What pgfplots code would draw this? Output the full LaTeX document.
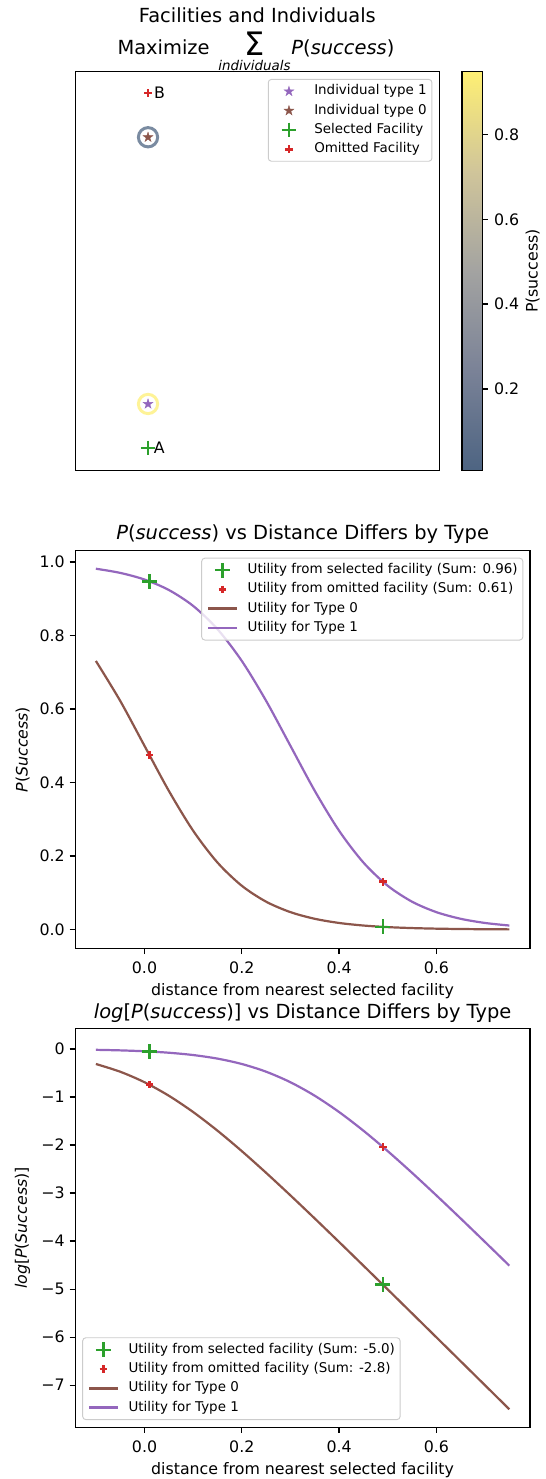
\documentclass[border=0pt]{standalone}
\usepackage{fontspec}
\setmainfont{DejaVu Sans}[ItalicFont={DejaVu Sans Oblique}]
\usepackage{graphicx}
\usepackage{pgfplots}
\pgfplotsset{compat=1.18}

\definecolor{tpurple}{RGB}{148,103,189}
\definecolor{tbrown}{RGB}{140,86,75}
\definecolor{tgreen}{RGB}{44,160,44}
\definecolor{tred}{RGB}{214,39,40}

\pgfdeclareplotmark{fstar}{%
  \pgfpathmoveto{\pgfqpoint{0pt}{\pgfplotmarksize}}%
  \pgfpathlineto{\pgfqpoint{-0.2245\pgfplotmarksize}{0.3090\pgfplotmarksize}}%
  \pgfpathlineto{\pgfqpoint{-0.9511\pgfplotmarksize}{0.3090\pgfplotmarksize}}%
  \pgfpathlineto{\pgfqpoint{-0.3633\pgfplotmarksize}{-0.1180\pgfplotmarksize}}%
  \pgfpathlineto{\pgfqpoint{-0.5878\pgfplotmarksize}{-0.8090\pgfplotmarksize}}%
  \pgfpathlineto{\pgfqpoint{0pt}{-0.3820\pgfplotmarksize}}%
  \pgfpathlineto{\pgfqpoint{0.5878\pgfplotmarksize}{-0.8090\pgfplotmarksize}}%
  \pgfpathlineto{\pgfqpoint{0.3633\pgfplotmarksize}{-0.1180\pgfplotmarksize}}%
  \pgfpathlineto{\pgfqpoint{0.9511\pgfplotmarksize}{0.3090\pgfplotmarksize}}%
  \pgfpathlineto{\pgfqpoint{0.2245\pgfplotmarksize}{0.3090\pgfplotmarksize}}%
  \pgfpathclose
  \pgfusepathqfillstroke}

\pgfplotsset{
  colormap={civ}{rgb255=(77,100,130) rgb255=(122,130,151) rgb255=(163,163,161) rgb255=(208,197,154) rgb255=(254,239,116)},
  base/.style={
    scale only axis,
    axis line style={line width=0.8pt, black},
    tick style={line width=0.8pt, black},
    major tick length=3.5pt,
    tick align=outside,
    tick label style={font=\fontsize{10}{12}\selectfont},
    /pgf/number format/assume math mode=true,
    every axis title/.style={at={(0.5,1)}, anchor=base, inner sep=0pt, font=\fontsize{12.3}{14}\selectfont},
    every axis x label/.style={at={(0.5,0)}, anchor=base, yshift=-29.7pt, inner sep=0pt, font=\fontsize{10}{12}\selectfont},
    every axis y label/.style={at={(-0.1157,0.5)}, anchor=center, rotate=90, inner sep=0pt, font=\fontsize{10}{12}\selectfont},
  },
  lineplot/.style={
    base, tick pos=left,
    xticklabel style={inner sep=0pt, anchor=north, yshift=-4.7pt},
    yticklabel style={inner sep=0pt, anchor=east, xshift=-2.9pt},
    xmin=-0.1425, xmax=0.7925,
    xtick={0,0.2,0.4,0.6},
    xticklabels={0.0,0.2,0.4,0.6},
    xlabel={distance from nearest selected facility},
  },
  mylegend/.style={
    legend cell align=left,
    legend style={draw=black!20, line width=0.6pt, fill=white, fill opacity=0.8, draw opacity=1, text opacity=1,
      rounded corners=2pt,
      inner xsep=3.3pt, inner ysep=2.1pt, row sep=1.2pt,
      font=\fontsize{8.5}{10}\selectfont,
      nodes={inner sep=0pt, text height=7.7pt, text depth=3.3pt, anchor=west}},
  },
  markleg/.style={legend image code/.code={\draw[sharp corners,fill opacity=1,draw opacity=1,mark repeat=2,mark phase=2,##1] plot coordinates {(0pt,0pt) (9pt,0pt) (18pt,0pt)}; \path (0pt,0pt) (24.2pt,0pt);}},
  lineleg/.style={legend image code/.code={\draw[sharp corners,draw opacity=1,##1] (0pt,0pt) -- (18pt,0pt); \path (24.2pt,0pt);}},
}

\begin{document}
\begin{tikzpicture}
\useasboundingbox (0pt,0pt) rectangle (345.6pt,-936.2pt);

% ---------- top: facilities and individuals ----------
\begin{axis}[base, name=top, at={(47.6pt,-297.95pt)}, anchor=south west,
  width=230.5pt, height=252.6pt,
  xmin=0, xmax=1, ymin=0, ymax=1, xtick=\empty, ytick=\empty,
  colormap name=civ, point meta min=0.0074, point meta max=0.9479,
  mylegend, legend style={at={(0.981,0.9817)}, anchor=north east}]
\addplot[scatter, only marks, mark=o, mark size=6.1pt, line width=1.9pt, draw opacity=0.75,
  scatter/use mapped color={draw=mapped color}, point meta=explicit, forget plot]
  coordinates {(0.2,0.8356) [0.0074] (0.2,0.1672) [0.9479]};
\addplot[only marks, mark=fstar, mark size=3.3pt, tpurple, line width=0.2pt, markleg]
  coordinates {(0.2,0.1672)};
\addlegendentry{Individual type 1}
\addplot[only marks, mark=fstar, mark size=3.3pt, tbrown, line width=0.2pt, markleg]
  coordinates {(0.2,0.8356)};
\addlegendentry{Individual type 0}
\addplot[only marks, mark=+, mark size=4.6pt, line width=1.5pt, tgreen, markleg,
  nodes near coords={A}, nodes near coords align={anchor=west},
  every node near coord/.append style={anchor=west, text=black, inner sep=0pt, xshift=3pt, font=\fontsize{10}{12}\selectfont}]
  coordinates {(0.2,0.0569)};
\addlegendentry{Selected Facility}
\addplot[only marks, mark=+, mark size=2.4pt, line width=1.6pt, tred, markleg,
  nodes near coords={B}, nodes near coords align={anchor=west},
  every node near coord/.append style={anchor=west, text=black, inner sep=0pt, xshift=3pt, font=\fontsize{10}{12}\selectfont}]
  coordinates {(0.2,0.947)};
\addlegendentry{Omitted Facility}
\end{axis}

% ---------- colorbar ----------
\begin{axis}[base, at={(292.4pt,-297.95pt)}, anchor=south west,
  width=12.8pt, height=252.6pt,
  xmin=0, xmax=1, ymin=0.0074, ymax=0.9479,
  xtick=\empty, ytick={0.2,0.4,0.6,0.8}, yticklabels={0.2,0.4,0.6,0.8},
  ytick pos=right, yticklabel pos=right,
  yticklabel style={inner sep=0pt, anchor=west, xshift=3.8pt},
  colormap name=civ, point meta min=0.0074, point meta max=0.9479,
  axis on top,
  ylabel={P(success)},
  every axis y label/.style={at={(3.5,0.5)}, anchor=center, rotate=90, inner sep=0pt, font=\fontsize{10}{12}\selectfont}]
\addplot[surf, shader=interp, point meta=y] coordinates {
(0,0.0074) (1,0.0074)

(0,0.1) (1,0.1)

(0,0.2) (1,0.2)

(0,0.3) (1,0.3)

(0,0.4) (1,0.4)

(0,0.5) (1,0.5)

(0,0.6) (1,0.6)

(0,0.7) (1,0.7)

(0,0.8) (1,0.8)

(0,0.9) (1,0.9)

(0,0.9479) (1,0.9479)
};
\end{axis}

% ---------- middle: P(success) ----------
\begin{axis}[lineplot, at={(47.6pt,-600.5pt)}, anchor=south west,
  width=287.9pt, height=251.9pt,
  ymin=-0.052, ymax=1.031,
  ytick={0,0.2,0.4,0.6,0.8,1}, yticklabels={0.0,0.2,0.4,0.6,0.8,1.0},
  title={\textit{P}(\textit{success}) vs Distance Differs by Type},
  title style={yshift=7.2pt},
  ylabel={\textit{P}(\textit{Success})},
  mylegend, legend style={at={(0.9853,0.9824)}, anchor=north east}]
\addlegendimage{only marks, mark=+, mark size=4.7pt, line width=1.6pt, tgreen, markleg}
\addlegendimage{only marks, mark=+, mark size=2.4pt, line width=1.6pt, tred, markleg}
\addlegendimage{no marks, line width=1.6pt, tbrown, lineleg}
\addlegendimage{no marks, line width=1.6pt, tpurple, lineleg}
\addplot[no marks, smooth, line width=1.4pt, tbrown, forget plot] coordinates {
(-0.10,0.73106) (-0.05,0.62246) (0.00,0.5) (0.05,0.37754) (0.10,0.26894) (0.15,0.18243)
(0.20,0.11920) (0.25,0.07586) (0.30,0.047426) (0.35,0.029312) (0.40,0.017986) (0.45,0.010987)
(0.50,0.0066929) (0.55,0.0040701) (0.60,0.0024726) (0.65,0.0015011) (0.70,0.00091105) (0.75,0.00055278)};
\addplot[no marks, smooth, line width=1.4pt, tpurple, forget plot] coordinates {
(-0.10,0.98201) (-0.05,0.97069) (0.00,0.95257) (0.05,0.92414) (0.10,0.88080) (0.15,0.81757)
(0.20,0.73106) (0.25,0.62246) (0.30,0.5) (0.35,0.37754) (0.40,0.26894) (0.45,0.18243)
(0.50,0.11920) (0.55,0.07586) (0.60,0.047426) (0.65,0.029312) (0.70,0.017986) (0.75,0.010987)};
\addplot[only marks, mark=+, mark size=4.7pt, line width=1.6pt, tgreen, forget plot]
  coordinates {(0.01,0.94785) (0.49,0.0073915)};
\addplot[only marks, mark=+, mark size=2.4pt, line width=1.6pt, tred, forget plot]
  coordinates {(0.01,0.47502) (0.49,0.13011)};
\legend{Utility from selected facility (Sum: 0.96),Utility from omitted facility (Sum: 0.61),Utility for Type 0,Utility for Type 1}
\end{axis}

% ---------- bottom: log P(success) ----------
\begin{axis}[lineplot, at={(47.6pt,-903.5pt)}, anchor=south west,
  width=287.9pt, height=252.3pt,
  ymin=-7.877, ymax=0.42,
  ytick={-7,-6,-5,-4,-3,-2,-1,0}, yticklabels={−7,−6,−5,−4,−3,−2,−1,0},
  title={\textit{log}[\textit{P}(\textit{success})] vs Distance Differs by Type},
  title style={yshift=6.6pt},
  ylabel={\textit{log}[\textit{P}(\textit{Success})]},
  mylegend, legend style={at={(0.0154,0.0183)}, anchor=south west}]
\addlegendimage{only marks, mark=+, mark size=4.7pt, line width=1.6pt, tgreen, markleg}
\addlegendimage{only marks, mark=+, mark size=2.4pt, line width=1.6pt, tred, markleg}
\addlegendimage{no marks, line width=1.6pt, tbrown, lineleg}
\addlegendimage{no marks, line width=1.6pt, tpurple, lineleg}
\addplot[no marks, smooth, line width=1.4pt, tbrown, forget plot] coordinates {
(-0.10,-0.31326) (-0.05,-0.47408) (0.00,-0.69315) (0.05,-0.97408) (0.10,-1.31326) (0.15,-1.70141)
(0.20,-2.12693) (0.25,-2.57889) (0.30,-3.04859) (0.35,-3.52975) (0.40,-4.01815) (0.45,-4.51104)
(0.50,-5.00672) (0.55,-5.50408) (0.60,-6.00248) (0.65,-6.50150) (0.70,-7.00091) (0.75,-7.50055)};
\addplot[no marks, smooth, line width=1.4pt, tpurple, forget plot] coordinates {
(-0.10,-0.018149) (-0.05,-0.029750) (0.00,-0.048587) (0.05,-0.078889) (0.10,-0.126928) (0.15,-0.201413)
(0.20,-0.31326) (0.25,-0.47408) (0.30,-0.69315) (0.35,-0.97408) (0.40,-1.31326) (0.45,-1.70141)
(0.50,-2.12693) (0.55,-2.57889) (0.60,-3.04859) (0.65,-3.52975) (0.70,-4.01815) (0.75,-4.51104)};
\addplot[only marks, mark=+, mark size=4.7pt, line width=1.6pt, tgreen, forget plot]
  coordinates {(0.01,-0.053563) (0.49,-4.9074)};
\addplot[only marks, mark=+, mark size=2.4pt, line width=1.6pt, tred, forget plot]
  coordinates {(0.01,-0.74440) (0.49,-2.03941)};
\legend{Utility from selected facility (Sum: -5.0),Utility from omitted facility (Sum: -2.8),Utility for Type 0,Utility for Type 1}
\end{axis}

% ---------- top titles ----------
\node[anchor=base, inner sep=0pt, font=\fontsize{12.3}{14}\selectfont] at (162.9pt,-14.37pt) {Facilities and Individuals};
\node[anchor=base west, inner sep=0pt, font=\fontsize{12.3}{14}\selectfont] at (74.2pt,-34.8pt) {Maximize};
\node[anchor=base, inner sep=0pt] at (161.1pt,-35.0pt) {\resizebox{12.8pt}{14.9pt}{\fontsize{12.3}{14}\selectfont Σ}};
\node[anchor=base, inner sep=0pt, font=\fontsize{8.5}{10}\selectfont\itshape] at (161.1pt,-44.4pt) {individuals};
\node[anchor=base west, inner sep=0pt, font=\fontsize{12.3}{14}\selectfont] at (184.3pt,-34.8pt) {\textit{P}(\textit{success})};
\end{tikzpicture}
\end{document}
